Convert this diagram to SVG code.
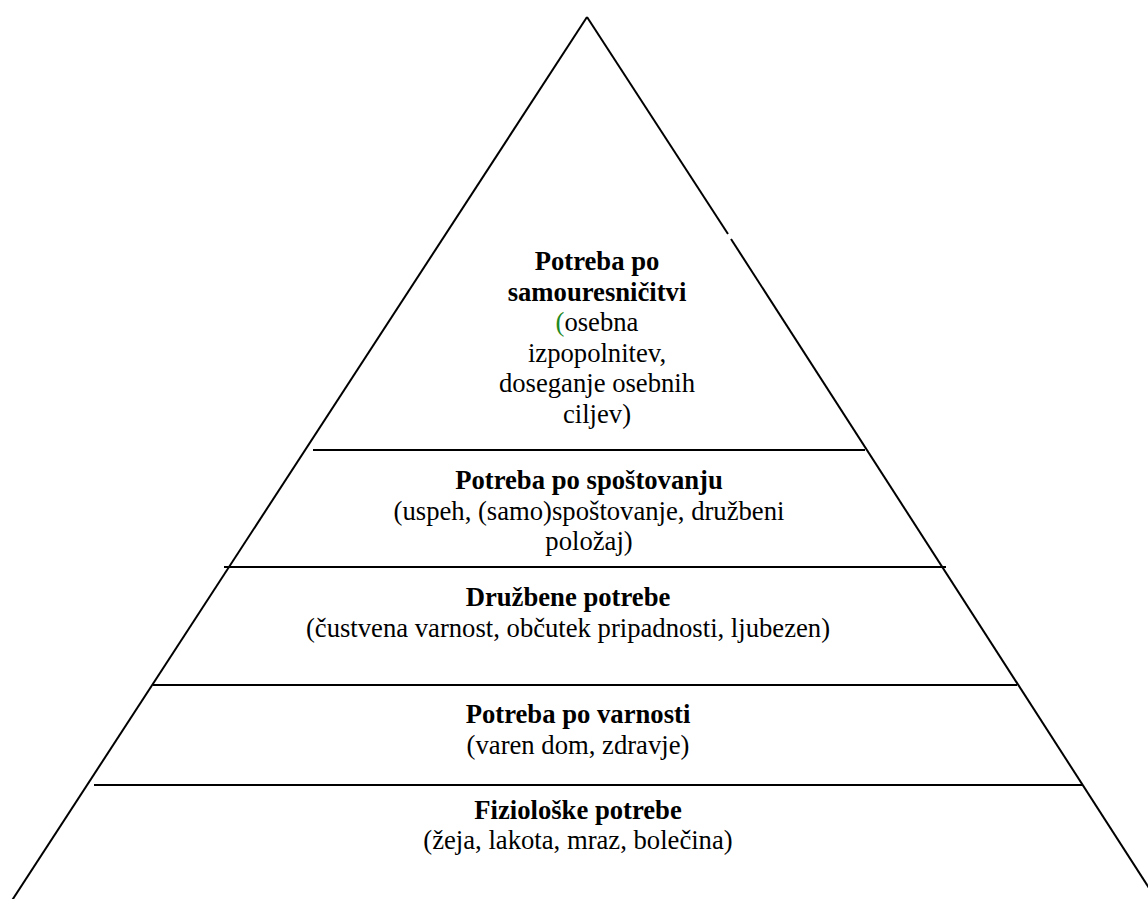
<svg xmlns="http://www.w3.org/2000/svg" width="1148" height="899" viewBox="0 0 1148 899">
<style>
.ln{stroke:#000;stroke-width:2;fill:none}
text{font-family:"Liberation Serif","Times New Roman",serif;font-size:26.67px;fill:#000;text-anchor:middle}
.b{font-weight:bold}
</style>
<rect width="1148" height="899" fill="#fff"/>
<g id="outline">
<line class="ln" x1="587" y1="17" x2="9" y2="905"/>
<line class="ln" x1="587" y1="17" x2="728" y2="234"/>
<line class="ln" x1="731" y1="239" x2="1160" y2="905"/>
<line class="ln" x1="313" y1="450" x2="865" y2="450"/>
<line class="ln" x1="224" y1="567" x2="946" y2="567"/>
<line class="ln" x1="153" y1="685" x2="1017" y2="685"/>
<line class="ln" x1="94" y1="785" x2="1082" y2="785"/>
</g>
<g id="level5">
<text x="597" y="270" class="b">Potreba po</text>
<text x="597" y="300.5" class="b">samouresničitvi</text>
<text x="597" y="331"><tspan fill="#1e8a1e">(</tspan>osebna</text>
<text x="597" y="361.5">izpopolnitev,</text>
<text x="597" y="392">doseganje osebnih</text>
<text x="597" y="422.5">ciljev)</text>
</g>
<g id="level4">
<text x="589" y="489" class="b">Potreba po spoštovanju</text>
<text x="589" y="519.5">(uspeh, (samo)spoštovanje, družbeni</text>
<text x="589" y="550">položaj)</text>
</g>
<g id="level3">
<text x="568" y="606" class="b">Družbene potrebe</text>
<text x="568" y="637">(čustvena varnost, občutek pripadnosti, ljubezen)</text>
</g>
<g id="level2">
<text x="578" y="723" class="b">Potreba po varnosti</text>
<text x="578" y="754">(varen dom, zdravje)</text>
</g>
<g id="level1">
<text x="578" y="819" class="b">Fiziološke potrebe</text>
<text x="578" y="849">(žeja, lakota, mraz, bolečina)</text>
</g>
</svg>
